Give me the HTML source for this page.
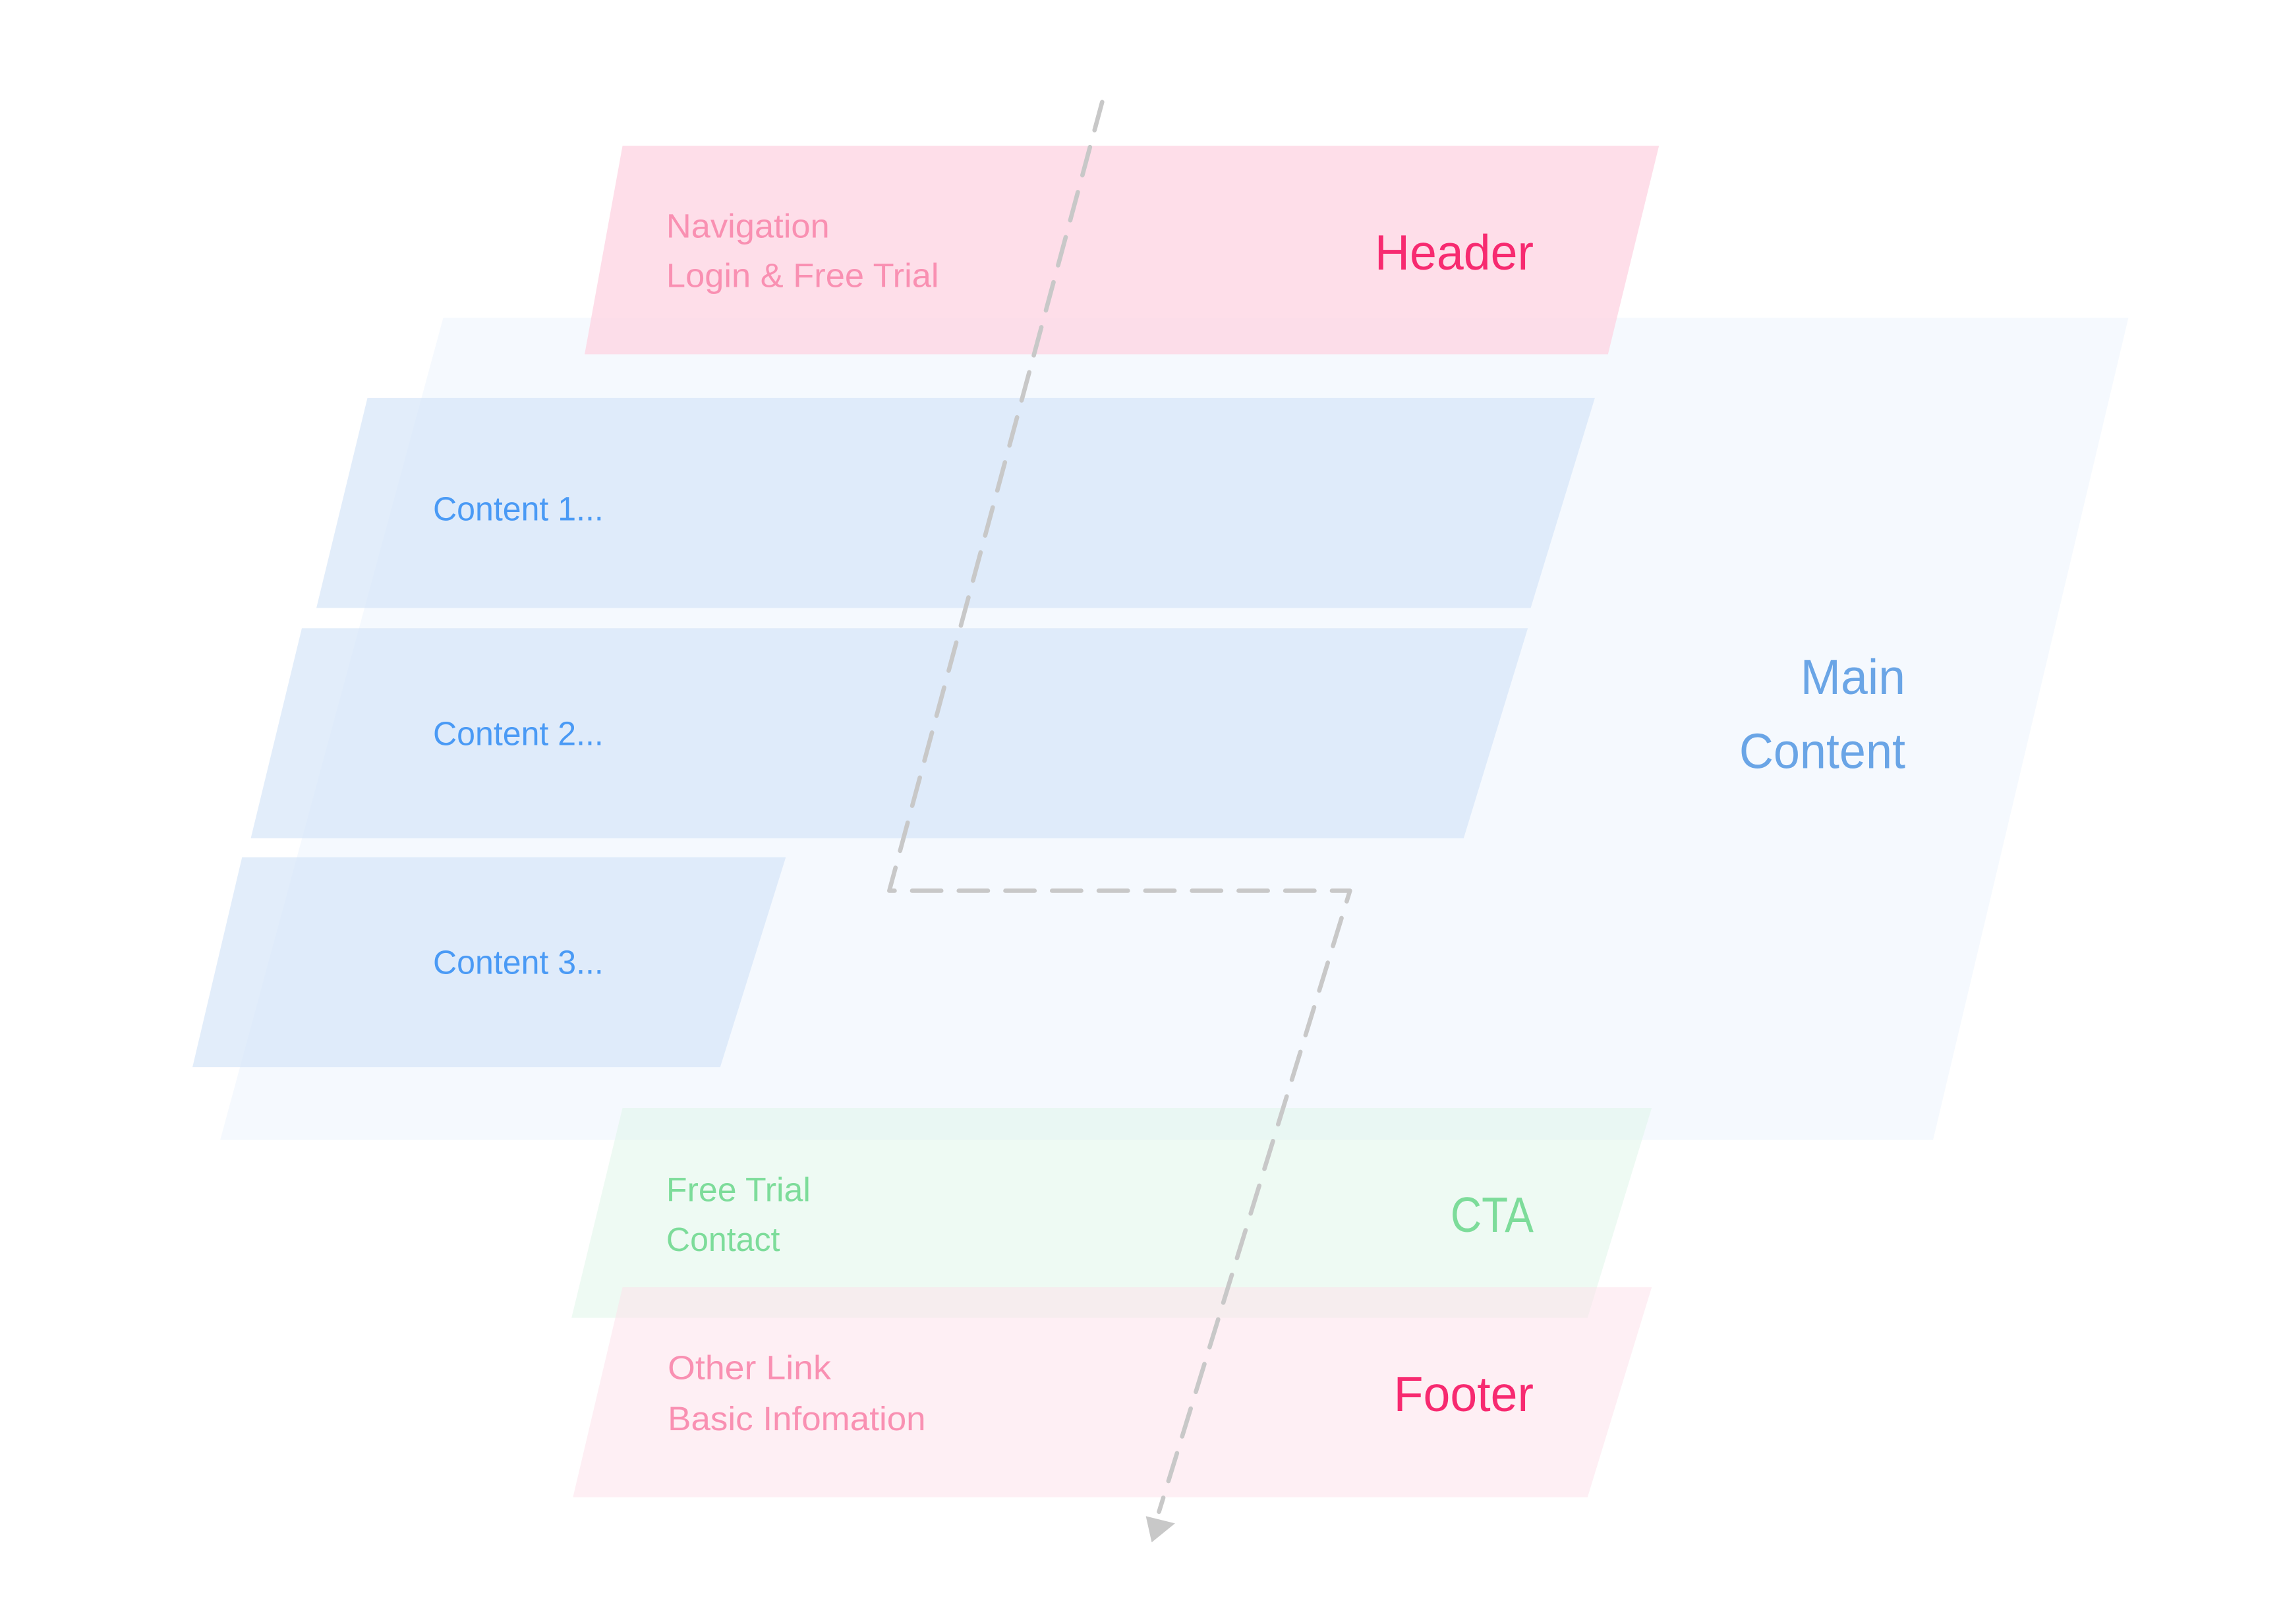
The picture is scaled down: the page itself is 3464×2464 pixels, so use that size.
<!DOCTYPE html>
<html><head><meta charset="utf-8"><style>
html,body{margin:0;padding:0;background:#fff;}
svg{display:block;}
text{font-family:"Liberation Sans Narrow","Liberation Sans",sans-serif;}
</style></head><body>
<svg width="3464" height="2464" viewBox="0 0 1566 1114" xmlns="http://www.w3.org/2000/svg">
<rect width="1566" height="1114" fill="#fff"/>
<polygon points="304,218 1460,218 1326,782 151,782" fill="#f5f9fe"/>
<polygon points="427,100 1138,100 1103,243 401,243" fill="#fdd3e2" fill-opacity="0.75"/>
<polygon points="252,273 1094,273 1050,417 217,417" fill="#d6e6f8" fill-opacity="0.7"/>
<polygon points="207,431 1048,431 1004,575 172,575" fill="#d6e6f8" fill-opacity="0.7"/>
<polygon points="166,588 539,588 494,732 132,732" fill="#d6e6f8" fill-opacity="0.7"/>
<polygon points="427,760 1133,760 1089,904 392,904" fill="#def5e8" fill-opacity="0.5"/>
<polygon points="427,883 1133,883 1089,1027 393,1027" fill="#fde0e9" fill-opacity="0.5"/>

<polyline points="756,70 610,611 926,611 795,1037" fill="none" stroke="#c8c8c8" stroke-width="3" stroke-dasharray="20 12" stroke-linecap="round" stroke-linejoin="round"/>
<polygon points="786,1040 806,1045 790,1058" fill="#c8c8c8"/>

<g font-size="23" lengthAdjust="spacingAndGlyphs">
<text x="457" y="163" fill="#f990b2" textLength="112" lengthAdjust="spacingAndGlyphs">Navigation</text>
<text x="457" y="197" fill="#f990b2" textLength="187" lengthAdjust="spacingAndGlyphs">Login &amp; Free Trial</text>
<text x="297" y="357" fill="#4a9af5" textLength="117" lengthAdjust="spacingAndGlyphs">Content 1...</text>
<text x="297" y="511" fill="#4a9af5" textLength="117" lengthAdjust="spacingAndGlyphs">Content 2...</text>
<text x="297" y="668" fill="#4a9af5" textLength="117" lengthAdjust="spacingAndGlyphs">Content 3...</text>
<text x="457" y="824" fill="#7ddc9a" textLength="99" lengthAdjust="spacingAndGlyphs">Free Trial</text>
<text x="457" y="858" fill="#7ddc9a" textLength="78" lengthAdjust="spacingAndGlyphs">Contact</text>
<text x="458" y="946" fill="#f990b2" textLength="112" lengthAdjust="spacingAndGlyphs">Other Link</text>
<text x="458" y="981" fill="#f990b2" textLength="177" lengthAdjust="spacingAndGlyphs">Basic Infomation</text>
</g>
<text x="943" y="185" font-size="34" fill="#f72a70" textLength="109" lengthAdjust="spacingAndGlyphs">Header</text>
<text x="1235" y="476" font-size="34" fill="#6aa5e6" textLength="72" lengthAdjust="spacingAndGlyphs">Main</text>
<text x="1193" y="527" font-size="34" fill="#6aa5e6" textLength="114" lengthAdjust="spacingAndGlyphs">Content</text>
<text x="995" y="845" font-size="34" fill="#7ddc9a" textLength="57" lengthAdjust="spacingAndGlyphs">CTA</text>
<text x="956" y="968" font-size="34" fill="#f72a70" textLength="96" lengthAdjust="spacingAndGlyphs">Footer</text>
</svg>
</body></html>
